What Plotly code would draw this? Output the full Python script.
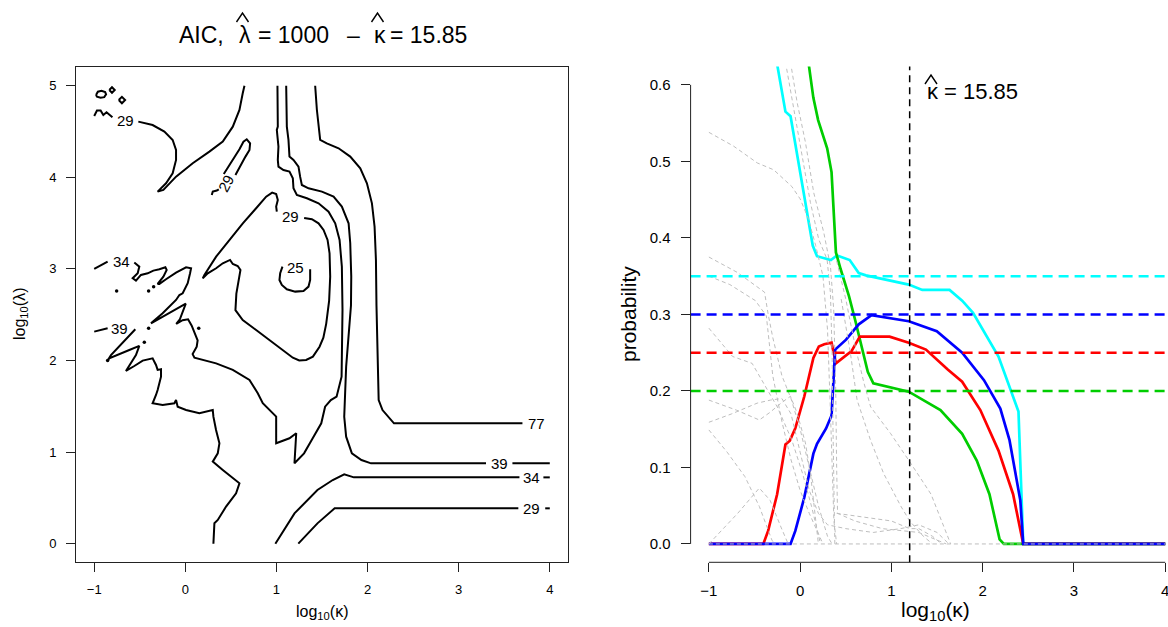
import plotly.graph_objects as go

W, H = 1168, 627
FONT = "Liberation Sans, Arial, Helvetica, sans-serif"

# ---------------- LEFT PANEL: AIC contour lines (log10 kappa, log10 lambda) ----------------
c29_squiggle = [(-1.0, 4.67), (-0.97, 4.73), (-0.93, 4.73), (-0.90, 4.68), (-0.865, 4.71), (-0.835, 4.68), (-0.80, 4.655)]
c29_upper = [(-0.516, 4.608), (-0.359, 4.571), (-0.230, 4.499), (-0.139, 4.408), (-0.102, 4.299), (-0.102, 4.189),
             (-0.139, 4.044), (-0.212, 3.935), (-0.304, 3.844), (-0.241, 3.862), (-0.102, 4.007), (0.081, 4.153),
             (0.264, 4.280), (0.411, 4.39), (0.521, 4.553), (0.594, 4.735), (0.630, 4.917), (0.649, 5.0)]
blob_ellipse = [(-0.98, 4.90), (-0.96, 4.935), (-0.92, 4.945), (-0.88, 4.93), (-0.87, 4.905), (-0.89, 4.875),
                (-0.93, 4.868), (-0.97, 4.88), (-0.98, 4.90)]
blob_diamond1 = [(-0.835, 4.953), (-0.805, 4.983), (-0.775, 4.953), (-0.805, 4.923), (-0.835, 4.953)]
blob_diamond2 = [(-0.731, 4.844), (-0.696, 4.879), (-0.661, 4.844), (-0.696, 4.809), (-0.731, 4.844)]
c29_island_a = [(0.290, 3.807), (0.301, 3.844), (0.345, 3.855), (0.367, 3.869)]
c29_island_b = [(0.550, 4.026), (0.601, 4.124), (0.660, 4.226), (0.704, 4.298), (0.711, 4.371), (0.674, 4.415),
                (0.638, 4.389), (0.594, 4.306), (0.528, 4.197), (0.466, 4.109), (0.422, 4.037)]
c29_main = [(1.304, 3.556), (1.389, 3.542), (1.462, 3.498), (1.517, 3.425), (1.561, 3.316), (1.583, 3.170),
            (1.590, 2.916), (1.578, 2.65), (1.546, 2.40), (1.515, 2.25), (1.473, 2.15), (1.400, 2.042),
            (1.326, 2.006), (1.25, 2.0), (1.180, 2.030), (1.070, 2.115), (0.923, 2.224), (0.777, 2.333),
            (0.630, 2.442), (0.55, 2.55), (0.56, 2.73), (0.59, 2.88), (0.605, 2.988), (0.575, 3.032),
            (0.521, 3.054), (0.491, 3.098), (0.411, 3.061), (0.338, 3.007), (0.246, 2.952), (0.191, 2.897),
            (0.209, 2.934), (0.338, 3.134), (0.484, 3.316), (0.631, 3.498), (0.777, 3.662), (0.887, 3.789),
            (0.953, 3.833), (0.997, 3.818), (1.015, 3.753), (0.997, 3.680), (1.004, 3.625)]
c25 = [(1.066, 3.025), (1.041, 2.952), (1.033, 2.879), (1.059, 2.825), (1.114, 2.777), (1.206, 2.752),
       (1.297, 2.759), (1.352, 2.807), (1.370, 2.879), (1.370, 2.996)]
c34_left = [(-1.0, 3.0), (-0.853, 3.079)]
c34_main = [(-0.560, 3.069), (-0.505, 3.025), (-0.523, 2.952), (-0.578, 2.898), (-0.542, 2.872), (-0.487, 2.934),
            (-0.413, 2.952), (-0.351, 2.981), (-0.285, 2.996), (-0.219, 3.018), (-0.205, 2.989), (-0.241, 2.916),
            (-0.304, 2.836), (-0.285, 2.836), (-0.212, 2.887), (-0.102, 2.959), (0.008, 3.018), (0.063, 3.007),
            (0.052, 2.952), (0.026, 2.843), (-0.029, 2.734), (-0.065, 2.715), (-0.102, 2.661), (-0.249, 2.515),
            (-0.377, 2.406), (-0.30, 2.45), (-0.15, 2.53), (0.005, 2.62), (-0.06, 2.45), (-0.10, 2.40),
            (-0.03, 2.44), (0.03, 2.45), (0.07, 2.38), (0.10, 2.30), (0.135, 2.22), (0.125, 2.15),
            (0.08, 2.07), (0.10, 2.03), (0.19, 2.006), (0.338, 1.969), (0.521, 1.897), (0.704, 1.788),
            (0.795, 1.642), (0.850, 1.533), (0.997, 1.387), (0.997, 1.096), (1.143, 1.151), (1.217, 1.205),
            (1.198, 0.878), (1.303, 0.986), (1.387, 1.132), (1.492, 1.314), (1.534, 1.496), (1.597, 1.568),
            (1.660, 1.605), (1.715, 1.823), (1.725, 2.55), (1.718, 3.025), (1.693, 3.316), (1.645, 3.498),
            (1.572, 3.625), (1.462, 3.716), (1.334, 3.771), (1.224, 3.807), (1.187, 3.880), (1.180, 3.989),
            (1.143, 4.062), (1.077, 4.080), (1.022, 4.117), (1.015, 4.189), (1.022, 4.335), (1.004, 4.517),
            (1.015, 4.553), (1.011, 5.0)]
c39_left = [(-1.0, 2.315), (-0.853, 2.352)]
c39_jag = [(-0.549, 2.341), (-0.816, 2.060), (-0.853, 1.999), (-0.835, 2.024), (-0.615, 2.115), (-0.505, 2.159),
           (-0.542, 2.060), (-0.652, 1.886), (-0.560, 1.940), (-0.468, 1.999), (-0.359, 2.024), (-0.322, 1.951),
           (-0.304, 1.897), (-0.267, 1.904), (-0.267, 1.824), (-0.285, 1.733), (-0.304, 1.678), (-0.322, 1.624),
           (-0.359, 1.533), (-0.249, 1.515), (-0.120, 1.533), (-0.102, 1.569), (-0.084, 1.496), (0.008, 1.460),
           (0.154, 1.424), (0.301, 1.460), (0.308, 1.387), (0.337, 1.242), (0.374, 1.096), (0.356, 0.987),
           (0.301, 0.896), (0.411, 0.805), (0.539, 0.696), (0.594, 0.659), (0.557, 0.550), (0.447, 0.405),
           (0.356, 0.259), (0.319, 0.223), (0.308, 0.0)]
c39_right = [(1.107, 5.0), (1.114, 4.553), (1.132, 4.408), (1.143, 4.226), (1.187, 4.189), (1.242, 4.117),
             (1.260, 4.007), (1.279, 3.916), (1.352, 3.880), (1.499, 3.844), (1.627, 3.789), (1.718, 3.680),
             (1.792, 3.498), (1.810, 3.280), (1.821, 2.916), (1.818, 2.6), (1.765, 1.932), (1.744, 1.386),
             (1.765, 1.168), (1.828, 0.986), (1.933, 0.913), (2.038, 0.877), (3.30, 0.877)]
c39_tail = [(3.59, 0.877), (4.0, 0.877)]
c77 = [(1.425, 5.0), (1.444, 4.735), (1.480, 4.408), (1.553, 4.371), (1.682, 4.317), (1.810, 4.226),
       (1.920, 4.098), (1.993, 3.935), (2.048, 3.716), (2.077, 3.462), (2.092, 3.098), (2.098, 2.6),
       (2.122, 1.568), (2.164, 1.459), (2.290, 1.314), (3.70, 1.314)]
c34_low = [(0.988, 0.0), (1.198, 0.331), (1.450, 0.586), (1.618, 0.695), (1.744, 0.757), (1.849, 0.724), (3.667, 0.724)]
c34_low_tail = [(3.93, 0.724), (4.0, 0.724)]
c29_low = [(1.240, 0.0), (1.450, 0.222), (1.639, 0.386), (3.655, 0.386)]
c29_low_tail = [(3.95, 0.386), (4.0, 0.386)]

contour_paths = [c29_squiggle, c29_upper, blob_ellipse, blob_diamond1, blob_diamond2, c29_island_a, c29_island_b,
                 c29_main, c25, c34_left, c34_main, c39_left, c39_jag, c39_right, c39_tail, c77, c34_low,
                 c34_low_tail, c29_low, c29_low_tail]

dot_x = [-0.754, -0.403, -0.348, -0.403, -0.45, 0.147, -0.853]
dot_y = [2.759, 2.759, 2.806, 2.352, 2.199, 2.352, 1.999]

label_x = [-0.652, 0.447, 1.150, 1.206, -0.706, -0.725, 3.445, 3.85, 3.80, 3.80]
label_y = [4.615, 3.93, 3.57, 3.018, 3.079, 2.352, 0.877, 1.31, 0.724, 0.386]
label_t = ["29", "29", "29", "25", "34", "39", "39", "77", "34", "29"]
label_angle = [0, -62, 0, 0, 0, 0, 0, 0, 0, 0]

left_ticks_x = [-1, 0, 1, 2, 3, 4]
left_ticks_y = [0, 1, 2, 3, 4, 5]

# ---------------- RIGHT PANEL: probabilities vs log10(kappa) ----------------
cyan_x = [-0.252, -0.161, -0.105, 0.138, 0.185, 0.336, 0.404, 0.543, 0.642, 0.721, 1.19, 1.338, 1.637, 1.775,
          1.894, 2.173, 2.392, 2.444, 4.0]
cyan_y = [0.627, 0.565, 0.559, 0.390, 0.376, 0.371, 0.377, 0.371, 0.354, 0.351, 0.339, 0.332, 0.332, 0.318,
          0.302, 0.245, 0.173, 0.0, 0.0]
green_x = [0.094, 0.145, 0.197, 0.296, 0.344, 0.392, 0.444, 0.535, 0.602, 0.741, 0.802, 1.19, 1.537, 1.775,
           1.935, 2.074, 2.185, 2.232, 4.0]
green_y = [0.627, 0.583, 0.554, 0.517, 0.486, 0.381, 0.359, 0.324, 0.293, 0.225, 0.210, 0.199, 0.175, 0.144,
           0.109, 0.065, 0.006, 0.0, 0.0]
red_x = [-1.0, -0.403, -0.351, -0.252, -0.161, -0.113, -0.053, 0.046, 0.145, 0.205, 0.264, 0.344, 0.392, 0.471,
         0.563, 0.654, 0.98, 1.19, 1.378, 1.617, 1.775, 1.974, 2.173, 2.333, 2.424, 2.444, 4.0]
red_y = [0.0, 0.0, 0.017, 0.065, 0.130, 0.135, 0.151, 0.193, 0.243, 0.258, 0.261, 0.263, 0.236, 0.243,
         0.252, 0.271, 0.271, 0.263, 0.254, 0.228, 0.212, 0.175, 0.122, 0.065, 0.013, 0.0, 0.0]
blue_x = [-1.0, -0.105, -0.053, 0.046, 0.145, 0.185, 0.284, 0.344, 0.384, 0.503, 0.642, 0.782, 1.19, 1.497,
          1.775, 2.014, 2.193, 2.293, 2.412, 2.444, 4.0]
blue_y = [0.0, 0.0, 0.017, 0.061, 0.118, 0.131, 0.151, 0.168, 0.254, 0.267, 0.287, 0.299, 0.291, 0.278,
          0.250, 0.214, 0.177, 0.136, 0.057, 0.0, 0.0]

gray_paths = [
    [(-1.0, 0.538), (-0.73, 0.52), (-0.47, 0.498), (-0.29, 0.489), (-0.09, 0.467), (0.0, 0.451), (0.09, 0.425),
     (0.17, 0.39), (0.25, 0.35), (0.30, 0.28), (0.33, 0.18), (0.35, 0.09), (0.37, 0.03), (0.40, 0.0)],
    [(-0.161, 0.63), (-0.069, 0.568), (0.022, 0.503), (0.113, 0.446), (0.204, 0.398), (0.295, 0.372),
     (0.332, 0.328), (0.35, 0.25), (0.36, 0.15), (0.37, 0.06), (0.38, 0.0)],
    [(-0.106, 0.63), (-0.033, 0.577), (0.058, 0.525), (0.149, 0.459), (0.259, 0.407), (0.332, 0.363),
     (0.368, 0.306), (0.39, 0.2), (0.40, 0.1), (0.41, 0.04), (0.6, 0.03), (0.9, 0.02), (1.3, 0.015), (1.6, 0.0)],
    [(-1.0, 0.375), (-0.69, 0.355), (-0.39, 0.329), (-0.35, 0.30), (-0.3, 0.27), (-0.2, 0.22), (-0.1, 0.19),
     (0.0, 0.15), (0.1, 0.1), (0.2, 0.05), (0.3, 0.01), (0.35, 0.0)],
    [(-1.0, 0.350), (-0.77, 0.339), (-0.49, 0.318), (-0.37, 0.298), (-0.3, 0.22), (-0.2, 0.16), (-0.1, 0.11),
     (0.0, 0.07), (0.1, 0.04), (0.25, 0.0)],
    [(-1.0, 0.282), (-0.74, 0.245), (-0.526, 0.236), (-0.25, 0.179), (-0.092, 0.136), (0.027, 0.092),
     (0.125, 0.049), (0.224, 0.0)],
    [(-1.0, 0.149), (-0.8, 0.12), (-0.605, 0.088), (-0.447, 0.049), (-0.309, 0.005), (-0.28, 0.0)],
    [(-1.0, 0.0), (-0.684, 0.040), (-0.447, 0.073), (-0.329, 0.057), (-0.21, 0.022), (-0.131, 0.0)],
    [(-1.0, 0.188), (-0.7, 0.175), (-0.447, 0.162), (-0.33, 0.172), (-0.2, 0.185), (-0.106, 0.193),
     (-0.033, 0.171), (0.058, 0.132), (0.113, 0.092), (0.186, 0.014), (0.2, 0.0)],
    [(-1.0, 0.159), (-0.75, 0.17), (-0.471, 0.184), (-0.325, 0.188), (-0.2, 0.19), (-0.1, 0.17), (0.0, 0.12),
     (0.1, 0.07), (0.2, 0.04), (0.3, 0.025), (0.5, 0.02), (0.8, 0.015), (1.1, 0.02), (1.3, 0.025),
     (1.5, 0.015), (1.63, 0.0)],
    [(0.4, 0.37), (0.5, 0.32), (0.6, 0.26), (0.7, 0.21), (0.773, 0.179), (0.993, 0.144), (1.214, 0.105),
     (1.434, 0.065), (1.636, 0.004), (1.65, 0.0)],
    [(0.45, 0.32), (0.55, 0.25), (0.624, 0.188), (0.77, 0.136), (0.915, 0.092), (0.988, 0.075), (1.1, 0.05),
     (1.2, 0.03), (1.35, 0.01), (1.45, 0.0)],
    [(0.4, 0.04), (0.7, 0.035), (1.0, 0.03), (1.2, 0.02), (1.3, 0.02), (1.45, 0.01), (1.55, 0.0)],
    [(-1.0, 0.0), (4.0, 0.0)],
]

threshold_vals = [0.35, 0.30, 0.25, 0.20]
threshold_cols = ["#00FFFF", "#0000FF", "#FF0000", "#00CD00"]
kappa_hat_log = 1.2
right_ticks_x = [-1, 0, 1, 2, 3, 4]
right_ticks_y = [0.0, 0.1, 0.2, 0.3, 0.4, 0.5, 0.6]

# title pieces (text, left pixel position) and hat accents (centre x, top y, bottom y, half width)
title_parts = [("AIC,", 177), ("λ", 236.5), ("= 1000", 256), ("–", 345), ("κ", 372), ("= 15.85", 388)]
hat_marks = [(242.5, 13, 22, 6), (377.5, 13, 22, 6), (931, 75, 84, 6)]


def flatten(paths):
    xs, ys = [], []
    for p in paths:
        for a, b in p:
            xs.append(a)
            ys.append(b)
        xs.append(None)
        ys.append(None)
    return xs, ys


fig = go.Figure()

cx, cy = flatten(contour_paths)
fig.add_trace(go.Scatter(x=cx, y=cy, mode="lines", line=dict(color="black", width=2),
                         xaxis="x", yaxis="y", hoverinfo="skip"))
fig.add_trace(go.Scatter(x=dot_x, y=dot_y, mode="markers", marker=dict(color="black", size=3.5),
                         xaxis="x", yaxis="y", hoverinfo="skip"))
for lx, ly, lt, la in zip(label_x, label_y, label_t, label_angle):
    fig.add_annotation(x=lx, y=ly, xref="x", yref="y", text=lt, showarrow=False, textangle=la,
                       font=dict(family=FONT, size=15, color="black"))

# right panel main lines
for xs, ys, col in [(cyan_x, cyan_y, "#00FFFF"), (green_x, green_y, "#00CD00"),
                    (red_x, red_y, "#FF0000"), (blue_x, blue_y, "#0000FF")]:
    fig.add_trace(go.Scatter(x=xs, y=ys, mode="lines", line=dict(color=col, width=2.7),
                             xaxis="x2", yaxis="y2", hoverinfo="skip"))
gx, gy = flatten(gray_paths)
fig.add_trace(go.Scatter(x=gx, y=gy, mode="lines", line=dict(color="#BEBEBE", width=1, dash="4px,3px"),
                         xaxis="x2", yaxis="y2", hoverinfo="skip"))

shapes = []
for v, c in zip(threshold_vals, threshold_cols):
    shapes.append(dict(type="line", xref="x2 domain", yref="y2", x0=0, x1=1, y0=v, y1=v,
                       line=dict(color=c, width=2.5, dash="10px,6px")))
shapes.append(dict(type="line", xref="x2", yref="y2 domain", x0=kappa_hat_log, x1=kappa_hat_log, y0=0, y1=1,
                   line=dict(color="black", width=1.5, dash="7px,5px")))
# R-style axis lines spanning first to last tick
shapes.append(dict(type="line", xref="x2 domain", yref="y2", x0=0, x1=0, y0=right_ticks_y[0], y1=right_ticks_y[-1],
                   line=dict(color="#222", width=1)))
shapes.append(dict(type="line", xref="x2", yref="y2 domain", x0=right_ticks_x[0], x1=right_ticks_x[-1], y0=0, y1=0,
                   line=dict(color="#222", width=1)))
# hat accents over the Greek letters
for hx, ht, hb, hw in hat_marks:
    path = "M %.5f,%.5f L %.5f,%.5f L %.5f,%.5f" % ((hx - hw) / W, 1 - hb / H, hx / W, 1 - ht / H,
                                                     (hx + hw) / W, 1 - hb / H)
    shapes.append(dict(type="path", xref="paper", yref="paper", path=path, line=dict(color="black", width=1.4)))

axis_common = dict(showgrid=False, zeroline=False, ticks="outside", ticklen=9, tickcolor="#222",
                   tickwidth=1, ticklabeloverflow="allow")


def minus(v):
    return ("−" + str(abs(v))) if v < 0 else str(v)


fig.update_layout(
    width=W, height=H, margin=dict(l=0, r=0, t=0, b=0), autosize=False,
    paper_bgcolor="white", plot_bgcolor="white", showlegend=False,
    font=dict(family=FONT, color="black"),
    shapes=shapes,
    xaxis=dict(domain=[76 / W, 568 / W], range=[-1.2, 4.2], tickvals=left_ticks_x,
               ticktext=[minus(v) for v in left_ticks_x], showline=True, mirror=True, linecolor="#222",
               linewidth=1, tickfont=dict(size=13), ticklabelstandoff=6, anchor="y", **axis_common),
    yaxis=dict(domain=[(H - 562) / H, (H - 67.4) / H], range=[-0.2, 5.2], tickvals=left_ticks_y,
               showline=True, mirror=True, linecolor="#222", linewidth=1, tickfont=dict(size=13),
               ticklabelstandoff=7, anchor="x", **axis_common),
    xaxis2=dict(domain=[690.6 / W, 1.0], range=[-1.2, 4.03], tickvals=right_ticks_x,
                ticktext=[minus(v) for v in right_ticks_x], showline=False, tickfont=dict(size=15),
                ticklabelstandoff=6, anchor="y2", **axis_common),
    yaxis2=dict(domain=[(H - 562.3) / H, (H - 66.5) / H], range=[-0.024, 0.624], tickvals=right_ticks_y,
                ticktext=["%.1f" % v for v in right_ticks_y], showline=False, tickfont=dict(size=15),
                ticklabelstandoff=7, anchor="x2", **axis_common),
)

# title pieces
for txt, px in title_parts:
    fig.add_annotation(x=px / W, y=1 - 35 / H, xref="paper", yref="paper", showarrow=False, text=txt,
                       font=dict(size=23), xanchor="left", yanchor="middle")

# kappa-hat annotation in the right panel
fig.add_annotation(x=925 / W, y=1 - 91 / H, xref="paper", yref="paper", showarrow=False, text="κ",
                   font=dict(size=22), xanchor="left", yanchor="middle")
fig.add_annotation(x=942 / W, y=1 - 91 / H, xref="paper", yref="paper", showarrow=False, text="= 15.85",
                   font=dict(size=22), xanchor="left", yanchor="middle")

# axis titles
fig.add_annotation(x=322 / W, y=1 - 612 / H, xref="paper", yref="paper", showarrow=False,
                   text="log<sub>10</sub>(κ)", font=dict(size=16), xanchor="center", yanchor="middle")
fig.add_annotation(x=20 / W, y=1 - 314 / H, xref="paper", yref="paper", showarrow=False, textangle=-90,
                   text="log<sub>10</sub>(λ)", font=dict(size=16), xanchor="center", yanchor="middle")
fig.add_annotation(x=935 / W, y=1 - 611 / H, xref="paper", yref="paper", showarrow=False,
                   text="log<sub>10</sub>(κ)", font=dict(size=21), xanchor="center", yanchor="middle")
fig.add_annotation(x=628 / W, y=1 - 314 / H, xref="paper", yref="paper", showarrow=False, textangle=-90,
                   text="probability", font=dict(size=21), xanchor="center", yanchor="middle")

fig.write_html("out.html")
